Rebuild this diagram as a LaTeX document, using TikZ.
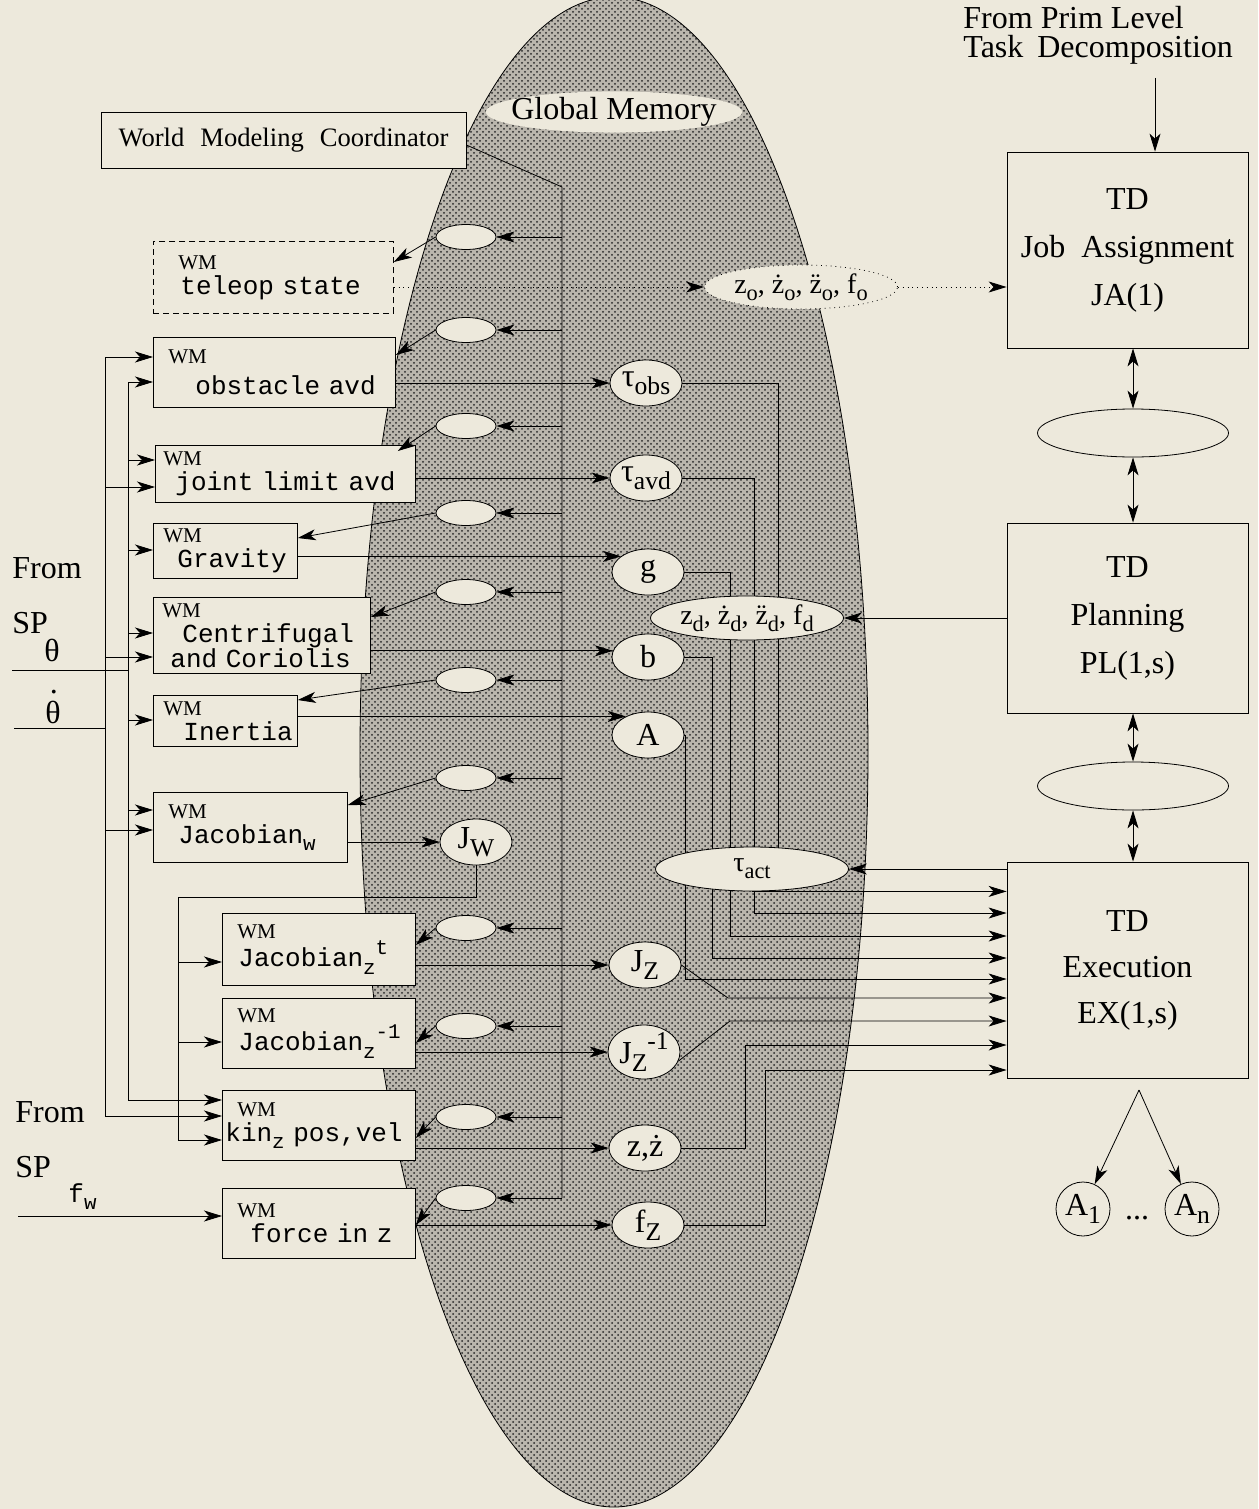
\documentclass[tikz,border=0pt]{standalone}
\usepackage{fontspec}
\setmainfont{Liberation Serif}
\setmonofont{Liberation Mono}
\usetikzlibrary{positioning}
\usetikzlibrary{shapes.geometric}
\usetikzlibrary{arrows.meta}
\usetikzlibrary{calc}
\usetikzlibrary{patterns}
\definecolor{paper}{RGB}{237,233,220}
\definecolor{memgray}{RGB}{186,182,173}
\pgfdeclarelayer{back}
\pgfdeclarelayer{bg}
\pgfsetlayers{back,bg,main}
\makeatletter
\newcommand\lo[1]{\raisebox{-0.55ex}{\fontsize{\fpeval{0.8*\f@size}}{0}\selectfont #1}}
\newcommand\hi[1]{\raisebox{0.9ex}{\fontsize{\fpeval{0.8*\f@size}}{0}\selectfont #1}}
\makeatother
\newcommand\wmtag{{\rmfamily\fontsize{10.5}{12.5}\selectfont WM}}
\tikzset{wmbox/.style 2 args = {draw, fill=paper, anchor=north west, align=left,
                                text width=#1, minimum height=#2,
                                inner xsep=0pt, inner ysep=0pt,
                                font=\fontsize{13}{12.5}\selectfont\ttfamily}}
\tikzset{tdbox/.style = {draw, fill=paper, minimum width=120.5pt, align=center,
                         font=\fontsize{16}{24}\selectfont}}
\tikzset{memslot/.style = {ellipse, draw, fill=paper, inner sep=0pt,
                           minimum width=30pt, minimum height=12.5pt}}
\tikzset{outell/.style = {ellipse, draw, fill=paper, inner sep=0pt,
                          minimum width=36pt, minimum height=23pt,
                          font=\fontsize{16}{16}\selectfont}}
\tikzset{wideell/.style = {ellipse, draw, fill=paper, inner sep=0pt,
                           minimum width=96.5pt, minimum height=22pt,
                           font=\fontsize{14}{14}\selectfont}}
\tikzset{lbl/.style = {inner sep=0pt, font=\fontsize{16}{18}\selectfont}}

\begin{document}
\begin{tikzpicture}[x=0.5pt, y=-0.5pt, line width=1.25pt,
                    >={Stealth[length=9pt, width=5.5pt, inset=2.5pt]}]
  \useasboundingbox (0,0) rectangle (1258,1509);
  % paper and global memory
  \begin{pgfonlayer}{back}
    \fill[paper] (0,0) rectangle (1258,1509);
    \fill[memgray] (614,752) ellipse [x radius=254, y radius=755];
    \fill[pattern=crosshatch dots, pattern color=black!85]
      (614,752) ellipse [x radius=254, y radius=755];
    \draw (614,752) ellipse [x radius=254, y radius=755];
  \end{pgfonlayer}
  \node[wideell, draw=none, inner xsep=-6pt, minimum height=20.5pt,
        font=\fontsize{16}{16}\selectfont] (gm) at (614,112) {Global Memory};

  % world modeling modules
  \node[draw, fill=paper, minimum width=182.5pt, minimum height=28pt,
        font=\fontsize{13.3}{16}\selectfont] (wmc) at (283.5,140)
    {World\hspace{8pt}Modeling\hspace{8pt}Coordinator};
  \node[wmbox={120pt}{36pt}, dashed, dash pattern=on 3pt off 2pt] (teleop) at (153,241)
    {\hspace*{12.5pt}\wmtag\\\hspace*{13.5pt}teleop state};
  \node[wmbox={121pt}{35pt}] (obst) at (153,337)
    {\hspace*{7.5pt}\wmtag\\[3pt]\hspace*{21pt}obstacle avd};
  \node[wmbox={130pt}{28.5pt}] (joint) at (155,445)
    {\hspace*{4pt}\wmtag\\\hspace*{10pt}joint limit avd};
  \node[wmbox={72pt}{27.5pt}] (grav) at (153,523)
    {\hspace*{5pt}\wmtag\\\hspace*{12pt}Gravity};
  \node[wmbox={108.5pt}{38pt}] (cent) at (153,597)
    {\hspace*{4.5pt}\wmtag\\\hspace*{14.5pt}Centrifugal\\\hspace*{8.5pt}and Coriolis};
  \node[wmbox={72pt}{25.5pt}] (iner) at (153,695)
    {\hspace*{5pt}\wmtag\\\hspace*{15pt}Inertia};
  \node[wmbox={97pt}{35pt}] (jacw) at (153,792)
    {\hspace*{7.5pt}\wmtag\\\hspace*{12.5pt}Jacobian\lo{w}};
  \node[wmbox={96.5pt}{36pt}] (jzt) at (222,913)
    {\hspace*{7.5pt}\wmtag\\\hspace*{8pt}Jacobian\lo{z}\hi{t}};
  \node[wmbox={96.5pt}{35pt}] (jzi) at (222,998)
    {\hspace*{7.5pt}\wmtag\\\hspace*{8pt}Jacobian\lo{z}\hi{-1}};
  \node[wmbox={96.5pt}{35pt}] (kin) at (222,1090)
    {\hspace*{7.5pt}\wmtag\\\hspace*{1.5pt}kin\lo{z} pos,vel};
  \node[wmbox={96.5pt}{35pt}] (force) at (222,1188)
    {\hspace*{7.5pt}\wmtag\\\hspace*{14pt}force in z};

  % memory slots
  \foreach \n/\y in {1/237, 2/330, 3/426, 4/513, 5/592, 6/680,
                     7/778, 8/928, 9/1026, 10/1117, 11/1198}
    \node[memslot] (m\n) at (466,\y) {};

  % computed values
  \node[outell] (tobs) at (646,383) {τ\lo{obs}};
  \node[outell] (tavd) at (646,478) {τ\lo{avd}};
  \node[outell] (g) at (648,572) {g};
  \node[outell] (b) at (648,657) {b};
  \node[outell] (A) at (648,735) {A};
  \node[outell] (jw) at (476,842) {J\lo{W}};
  \node[outell] (jz) at (645,965) {J\lo{Z}};
  \node[outell] (jzinv) at (644,1052) {J\lo{Z}\hi{-1}};
  \node[outell] (zz) at (645,1148) {z,ż};
  \node[outell] (fz) at (648,1225) {f\lo{Z}};
  \node[wideell, dotted] (zo) at (801,287) {z\lo{o}, ż\lo{o}, \"z\lo{o}, f\lo{o}};
  \node[wideell] (zd) at (747,618) {z\lo{d}, ż\lo{d}, \"z\lo{d}, f\lo{d}};
  \node[wideell] (tact) at (752,869) {τ\lo{act}};

  % task decomposition
  \node[lbl, anchor=north west, align=left, font=\fontsize{16}{14.5}\selectfont]
    (prim) at (963,6) {From Prim Level\\Task\hspace{7pt}Decomposition};
  \node[tdbox, minimum height=98pt] (ja) at (1127.5,250)
    {TD\\Job\hspace{8pt}Assignment\\JA(1)};
  \node[ellipse, draw, fill=paper, minimum width=95.5pt, minimum height=24pt]
    (jam) at (1133,433) {};
  \node[tdbox, minimum height=95pt] (pl) at (1127.5,618) {TD\\Planning\\PL(1,s)};
  \node[ellipse, draw, fill=paper, minimum width=95.5pt, minimum height=24pt]
    (plm) at (1133,786) {};
  \node[tdbox, minimum height=108pt, font=\fontsize{16}{23}\selectfont]
    (ex) at (1127.5,970) {TD\\Execution\\EX(1,s)};
  \node[circle, draw, fill=paper, minimum size=27pt, inner sep=0pt,
        font=\fontsize{16}{16}\selectfont] (a1) at (1083,1209) {A\lo{1}};
  \node[circle, draw, fill=paper, minimum size=27pt, inner sep=0pt,
        font=\fontsize{16}{16}\selectfont] (an) at (1192,1209) {A\lo{n}};
  \node[lbl] (adots) at (1137,1218) {...};

  % inputs from SP
  \node[lbl, anchor=base west] (from1) at (12,578) {From};
  \node[lbl, anchor=base west] (sp1) at (12,633) {SP};
  \node[lbl, anchor=south] (theta) at (52,662) {θ};
  \node[lbl, anchor=south] (thetadot) at (53,724)
    {\makebox[0pt][l]{\hspace{2.3pt}\raisebox{15pt}{.}}θ};
  \node[lbl, anchor=base west] (from2) at (15,1122) {From};
  \node[lbl, anchor=base west] (sp2) at (15,1177) {SP};
  \node[anchor=base west, inner sep=0pt, font=\fontsize{13}{13}\selectfont\ttfamily]
    (fw) at (68,1202) {f\lo{w}};

  \coordinate (thin) at (12,670);
  \coordinate (thdin) at (14,728);
  \coordinate (fwin) at (18,1216);
  \coordinate (busa) at (105,357);
  \coordinate (busaend) at (105,1116);
  \coordinate (busb) at (128,382);
  \coordinate (busbend) at (128,1100);
  \draw (thin) -- (busb |- thin);
  \draw (thdin) -- (busa |- thdin);
  \draw (busa) -- (busaend);
  \draw (busb) -- (busbend);
  \foreach \b/\y in {obst/357, joint/487, cent/657, jacw/830, kin/1116}
    \draw[->] (busa |- 0,\y) -- (\b.west |- 0,\y);
  \foreach \b/\y in {obst/382, joint/460, grav/550, cent/633, iner/720,
                     jacw/810, kin/1100}
    \draw[->] (busb |- 0,\y) -- (\b.west |- 0,\y);
  \draw[->] (fwin) -- (force.west |- fwin);

  % coordinator bus
  \coordinate (bustop) at (562,187);
  \coordinate (busbot) at (562,1198);
  \draw ([yshift=-2.5pt]wmc.east) -- (bustop) -- (busbot);
  \foreach \n in {1,...,11}
    \draw[->] (bustop |- m\n) -- (m\n.east);

  % slots to modules
  \draw[->] (m1.west) -- ($(teleop.north east)+(0,21)$);
  \draw[->] (m2.west) -- ($(obst.north east)+(0,18)$);
  \draw[->] (m3.west) -- ($(joint.north east)+(-18,6)$);
  \draw[->] (m4.west) -- ($(grav.north east)+(0,15)$);
  \draw[->] (m5.west) -- ($(cent.north east)+(0,20)$);
  \draw[->] (m6.west) -- ($(iner.north east)+(0,5)$);
  \draw[->] (m7.west) -- ($(jacw.north east)+(0,13)$);
  \draw[->] (m8.west) -- ($(jzt.north east)+(0,32)$);
  \draw[->] (m9.west) -- ($(jzi.north east)+(0,45)$);
  \draw[->] (m10.west) -- ($(kin.north east)+(0,48)$);
  \draw[->] (m11.west) -- ($(force.north east)+(0,37)$);

  % modules to values
  \draw[->] (obst.east |- tobs.west) -- (tobs.west);
  \draw[->] (joint.east |- tavd.west) -- (tavd.west);
  \draw[->] (grav.east |- g.150) -- (g.150);
  \draw[->] (cent.east |- b.170) -- (b.170);
  \draw[->] (iner.east |- A.140) -- (A.140);
  \draw[->] (jacw.east |- jw.west) -- (jw.west);
  \draw[->] (jzt.east |- jz.west) -- (jz.west);
  \draw[->] (jzi.east |- jzinv.west) -- (jzinv.west);
  \draw[->] (kin.east |- zz.west) -- (zz.west);
  \draw[->] (force.east |- fz.west) -- (fz.west);

  % J_w fed back
  \coordinate (jwturn) at (178,897);
  \coordinate (jwend) at (178,1140);
  \draw (jw.south) |- (jwturn) -- (jwend);
  \foreach \b/\y in {jzt/962, jzi/1042, kin/1140}
    \draw[->] (jwturn |- 0,\y) -- (\b.west |- 0,\y);

  % values to execution
  \coordinate (cobs) at (778,869);
  \coordinate (cavd) at (754,913);
  \coordinate (cg) at (730,936);
  \coordinate (cb) at (712,958);
  \coordinate (cA) at (685,979);
  \coordinate (cjz) at (728,998);
  \coordinate (cjzi) at (730,1021);
  \coordinate (czz) at (745,1045);
  \coordinate (cfz) at (765,1070);
  \begin{pgfonlayer}{bg}
    \draw (tobs.east) -| (cobs);
    \draw[->] (tavd.east) -| (cavd) -- (cavd -| ex.west);
    \draw[->] (g.east) -| (cg) -- (cg -| ex.west);
    \draw[->] (b.east) -| (cb) -- (cb -| ex.west);
    \draw[->] (A.east) -| (cA) -- (cA -| ex.west);
  \end{pgfonlayer}
  \draw[->] (tact.south) -- (tact.south -| ex.west);
  \draw[->] (jz.east) -- (cjz) -- (cjz -| ex.west);
  \draw[->] (jzinv.-15) -- (cjzi) -- (cjzi -| ex.west);
  \draw[->] (zz.east) -| (czz) -- (czz -| ex.west);
  \draw[->] (fz.east) -| (cfz) -- (cfz -| ex.west);

  % task decomposition links
  \coordinate (primarrow) at (1155,78);
  \draw[->] (primarrow) -- (primarrow |- ja.north);
  \draw[<->] (jam.north |- ja.south) -- (jam.north);
  \draw[<->] (jam.south) -- (jam.south |- pl.north);
  \draw[<->] (plm.north |- pl.south) -- (plm.north);
  \draw[<->] (plm.south) -- (plm.south |- ex.north);
  \draw[->] (pl.west |- zd) -- (zd.east);
  \draw[->] (ex.west |- tact) -- (tact.east);
  \draw[->, dotted] (teleop.east |- zo) -- (zo.west);
  \draw[->, dotted] (zo.east) -- (ja.west |- zo);
  \coordinate (exapex) at (1139,1090);
  \draw[->] (exapex) -- (a1);
  \draw[->] (exapex) -- (an);
\end{tikzpicture}
\end{document}
